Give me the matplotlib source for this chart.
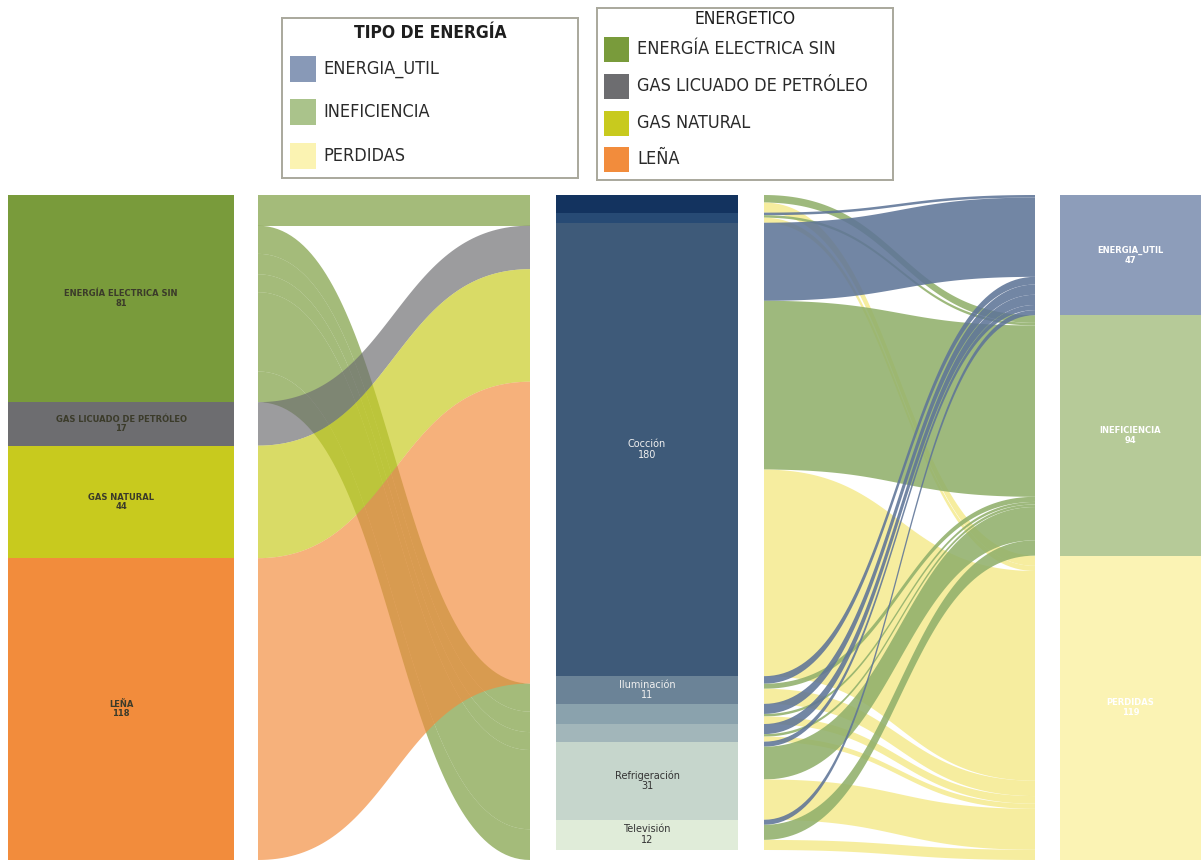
import numpy as np
import matplotlib
matplotlib.use('Agg')
import matplotlib.pyplot as plt
from matplotlib.patches import Rectangle

# nodes of the three columns
sources = ['ENERGÍA ELECTRICA SIN', 'GAS LICUADO DE PETRÓLEO', 'GAS NATURAL', 'LEÑA']
source_values = [81, 17, 44, 118]
uses = ['', '', 'Cocción', 'Iluminación', '', '', 'Refrigeración', 'Televisión']
use_values = [7, 4, 180, 11, 8, 7, 31, 12]
types = ['ENERGIA_UTIL', 'INEFICIENCIA', 'PERDIDAS']
type_values = [47, 94, 119]

# links (source index, use index, value)
source_use = [(0, 0, 7), (0, 1, 4), (0, 2, 1), (0, 3, 11), (0, 4, 8), (0, 5, 7),
              (0, 6, 31), (0, 7, 12), (1, 2, 17), (2, 2, 44), (3, 2, 118)]
# links (use index, type index, value)
use_type = [(0, 1, 3), (0, 2, 4),
            (1, 0, 1), (1, 1, 1), (1, 2, 2),
            (2, 0, 31), (2, 1, 67), (2, 2, 82),
            (3, 0, 3), (3, 1, 2), (3, 2, 6),
            (4, 0, 4), (4, 1, 1), (4, 2, 3),
            (5, 0, 4), (5, 1, 1), (5, 2, 2),
            (6, 0, 2), (6, 1, 13), (6, 2, 16),
            (7, 0, 2), (7, 1, 6), (7, 2, 4)]

src_colors = ['#799b3b', '#6d6d70', '#c8ca1e', '#f28c3c']
use_colors = ['#13335f', '#274a74', '#3e5a79', '#6b8397', '#8aa2ad', '#a2b6ba', '#c6d6cc', '#e0ecd9']
use_text = ['w', 'w', '#f0f0f0', '#f0f0f0', 'w', 'w', '#333333', '#333333']
type_colors = ['#8d9dba', '#b6ca98', '#fbf3b4']
type_flow_colors = ['#5f7598', '#91b06b', '#f5eb92']
legend_type_colors = ['#8899b7', '#aac38b', '#fbf3b2']

W, H = 1201, 861
TOTAL = sum(source_values)

fig = plt.figure(figsize=(W / 100, H / 100), dpi=100)


def px_axes(x0, y0, x1, y1):
    ax = fig.add_axes([x0 / W, 1 - y1 / H, (x1 - x0) / W, (y1 - y0) / H])
    ax.set_xlim(0, 1)
    ax.set_ylim(TOTAL, 0)
    ax.axis('off')
    return ax


def node_column(ax, values, colors, labels, text_colors, size, weight):
    bottoms = np.concatenate([[0], np.cumsum(values)[:-1]])
    ax.bar(0.5, values, bottom=bottoms, width=1, color=colors, linewidth=0)
    for lab, v, b, tc in zip(labels, values, bottoms, text_colors):
        if lab and v >= 11:
            ax.text(0.5, b + v / 2, f'{lab}\n{v}', ha='center', va='center',
                    fontsize=size, color=tc, fontweight=weight, linespacing=1.1)


def stack_links(links, n_src, n_tgt):
    # position of each link on its source and target node
    src_off = np.concatenate([[0], np.cumsum([sum(v for s, t, v in links if s == i) for i in range(n_src)])[:-1]])
    tgt_off = np.concatenate([[0], np.cumsum([sum(v for s, t, v in links if t == j) for j in range(n_tgt)])[:-1]])
    out_pos = np.zeros(n_src)
    s_pos = {}
    for s, t, v in sorted(links, key=lambda l: (l[0], l[1])):
        s_pos[(s, t)] = src_off[s] + out_pos[s]
        out_pos[s] += v
    in_pos = np.zeros(n_tgt)
    t_pos = {}
    for s, t, v in sorted(links, key=lambda l: (l[1], l[0])):
        t_pos[(s, t)] = tgt_off[t] + in_pos[t]
        in_pos[t] += v
    return s_pos, t_pos


def draw_flows(ax, links, n_src, n_tgt, colors, alpha, left_scale=1.0):
    s_pos, t_pos = stack_links(links, n_src, n_tgt)
    u = np.linspace(0, 1, 80)
    bx = 3 * (1 - u) ** 2 * u * 0.5 + 3 * (1 - u) * u ** 2 * 0.5 + u ** 3
    by = 3 * (1 - u) * u ** 2 + u ** 3
    for s, t, v in links:
        a = s_pos[(s, t)] * left_scale
        b = t_pos[(s, t)]
        top = a + (b - a) * by
        bot = (a + v * left_scale) + (b + v - a - v * left_scale) * by
        xs = np.concatenate([bx, bx[::-1]])
        ys = np.concatenate([top, bot[::-1]])
        ax.fill(xs, ys, color=colors(s, t), alpha=alpha, lw=0)


# columns
ax_src = px_axes(8, 195, 234, 860)
node_column(ax_src, source_values, src_colors, sources, ['#3b3b2a'] * 4, 6, 'bold')

ax_use = px_axes(556, 195, 738, 850)
node_column(ax_use, use_values, use_colors, uses, use_text, 7, 'normal')

ax_type = px_axes(1060, 195, 1201, 860)
node_column(ax_type, type_values, type_colors, types, ['w'] * 3, 6, 'bold')

# flows
ax_f1 = px_axes(258, 195, 530, 860)
draw_flows(ax_f1, source_use, len(sources), len(uses),
           lambda s, t: src_colors[s], 0.68)

ax_f2 = px_axes(764, 195, 1035, 860)
draw_flows(ax_f2, use_type, len(uses), len(types),
           lambda s, t: type_flow_colors[t], 0.88, left_scale=655 / 665)


# legends
def legend_box(x0, y0, x1, y1, title, title_y, title_size, title_weight,
               labels, colors, rows, sq_x, txt_x, sq):
    ax = fig.add_axes([x0 / W, 1 - y1 / H, (x1 - x0) / W, (y1 - y0) / H])
    ax.set_xlim(x0, x1)
    ax.set_ylim(y1, y0)
    ax.set_xticks([])
    ax.set_yticks([])
    for sp in ax.spines.values():
        sp.set_color('#a9a89c')
        sp.set_linewidth(1.4)
    ax.text((x0 + x1) / 2, title_y, title, ha='center', va='center',
            fontsize=title_size, fontweight=title_weight, fontstretch='condensed',
            family='DejaVu Sans', color='#1e1e1e')
    for lab, c, y in zip(labels, colors, rows):
        ax.add_patch(Rectangle((sq_x, y - sq / 2), sq, sq, color=c, lw=0))
        ax.text(txt_x, y, lab, ha='left', va='center', fontsize=13,
                fontstretch='condensed', family='DejaVu Sans', color='#2a2a2a')


legend_box(282, 18, 578, 178, 'TIPO DE ENERGÍA', 33, 12.5, 'semibold',
           types, legend_type_colors, [69, 112, 156], 290, 323, 26)
legend_box(597, 8, 893, 180, 'ENERGETICO', 19, 12.5, 'normal',
           sources, src_colors, [49, 86, 123, 159], 604, 637, 25)

fig.savefig('out.png', dpi=100)
